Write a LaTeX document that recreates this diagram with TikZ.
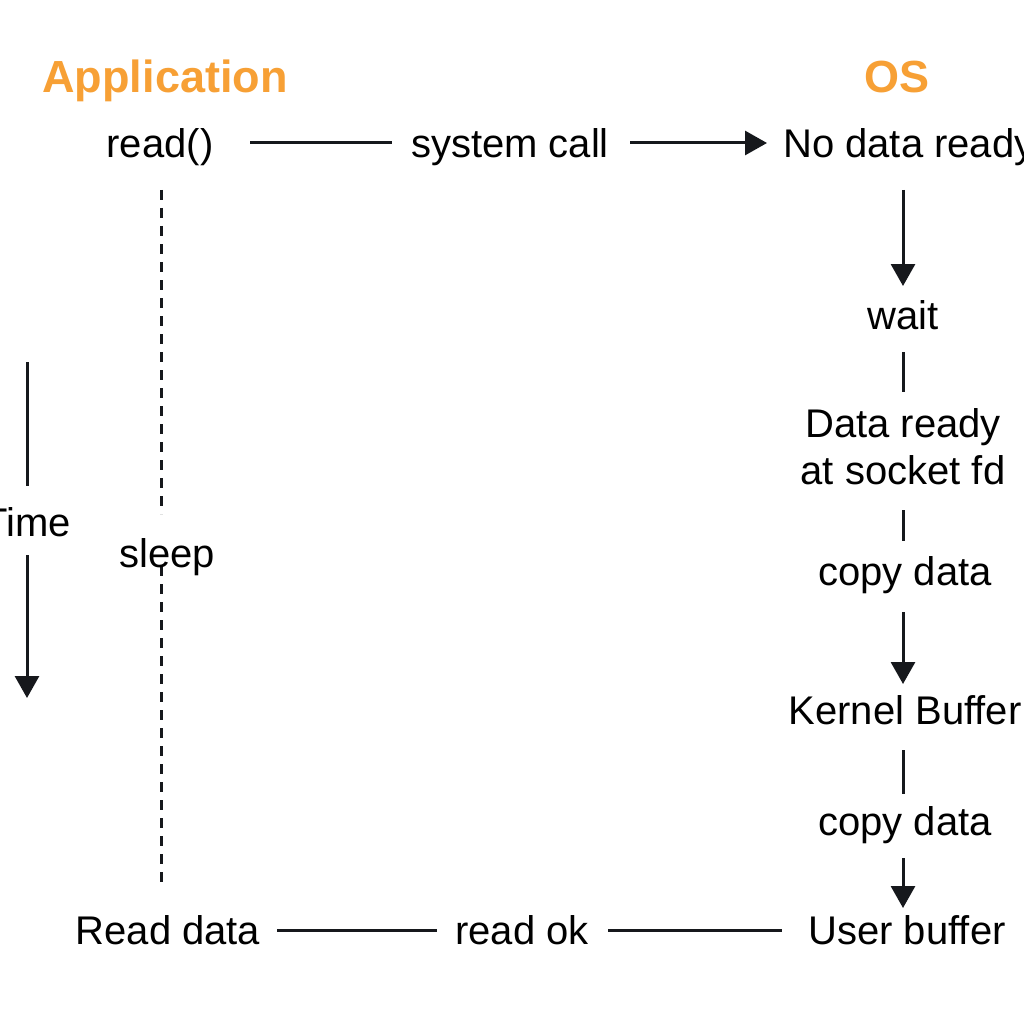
\documentclass[tikz,border=0pt]{standalone}
\usepackage{fontspec}
\setmainfont{Liberation Sans}
\usetikzlibrary{arrows.meta}
\definecolor{hdr}{HTML}{F7A035}
\definecolor{ink}{HTML}{16181C}
\begin{document}
\begin{tikzpicture}[x=1pt,y=-1pt,
  lbl/.style={inner sep=0pt,anchor=base,text=black,font=\fontsize{40}{47}\selectfont},
  hd/.style={inner sep=0pt,anchor=base,text=hdr,font=\fontsize{45}{50}\selectfont\bfseries},
  ln/.style={draw=ink,line width=3pt},
  ar/.style={ln,-{Triangle[length=22pt,width=24pt]}},
  dsh/.style={draw=ink,line width=3pt,dash pattern=on 10pt off 8pt}]
\fill[white] (0,0) rectangle (1024,1024);
\useasboundingbox (0,0) rectangle (1024,1024);
% headers
\node[hd] (app) at (165,93) {Application};
\node[hd] (os) at (897,93) {OS};
% app side
\node[lbl] (read) at (160,158) {read()};
\node[lbl] (sc) at (510,158) {system call};
\node[lbl,anchor=base west] (nodata) at (783,158) {No data ready};
\coordinate (c1) at (250,143);
\coordinate (c2) at (392,143);
\coordinate (c3) at (630,143);
\coordinate (c4) at (767,143);
\draw[ln] (c1) -- (c2);
\draw[ar] (c3) -- (c4);
% OS column
\node[lbl] (wait) at (903,329) {wait};
\node[lbl,align=center] (dr) at (903,437) {Data ready};
\node[lbl] (dr2) at (903,484) {at socket fd};
\node[lbl] (cp1) at (905,585) {copy data};
\node[lbl] (kb) at (905,724) {Kernel Buffer};
\node[lbl] (cp2) at (905,835) {copy data};
\node[lbl] (ub) at (907,944) {User buffer};
\coordinate (v1) at (903,190);
\coordinate (v2) at (903,286);
\coordinate (v3) at (903,352);
\coordinate (v4) at (903,392);
\coordinate (v5) at (903,510);
\coordinate (v6) at (903,541);
\coordinate (v7) at (903,612);
\coordinate (v8) at (903,684);
\coordinate (v9) at (903,750);
\coordinate (v10) at (903,794);
\coordinate (v11) at (903,858);
\coordinate (v12) at (903,908);
\draw[ar] (v1) -- (v2);
\draw[ln] (v3) -- (v4);
\draw[ln] (v5) -- (v6);
\draw[ar] (v7) -- (v8);
\draw[ln] (v9) -- (v10);
\draw[ar] (v11) -- (v12);
% bottom row
\node[lbl] (rd) at (168,944) {Read data};
\node[lbl] (rok) at (522,944) {read ok};
\coordinate (b1) at (277,930);
\coordinate (b2) at (437,930);
\coordinate (b3) at (608,930);
\coordinate (b4) at (782,930);
\draw[ln] (b1) -- (b2);
\draw[ln] (b3) -- (b4);
% sleep dashed line
\coordinate (s1) at (161,190);
\coordinate (s2) at (161,514);
\coordinate (s3) at (161,566);
\coordinate (s4) at (161,886);
\draw[dsh] (s1) -- (s2);
\draw[dsh] (s3) -- (s4);
\node[lbl] (sleep) at (167,567) {sleep};
% time axis
\node[lbl] (time) at (27,536) {Time};
\coordinate (t1) at (27,362);
\coordinate (t2) at (27,486);
\coordinate (t3) at (27,555);
\coordinate (t4) at (27,698);
\draw[ln] (t1) -- (t2);
\draw[ar] (t3) -- (t4);
\end{tikzpicture}
\end{document}
